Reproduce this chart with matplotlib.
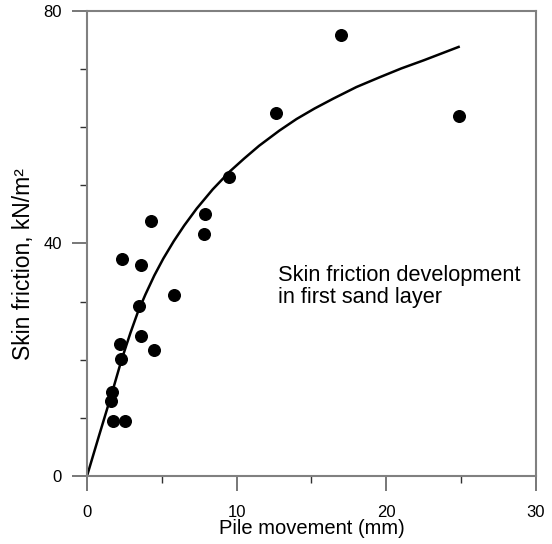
import matplotlib.pyplot as plt
import numpy as np

plt.rcParams['font.family'] = ['Liberation Sans', 'DejaVu Sans']

## measured points: pile movement (mm) vs skin friction (kN/m2)
movement = [1.67, 1.63, 1.74, 2.52, 2.27, 2.23, 4.48, 3.63, 3.47, 5.83,
            3.63, 2.32, 4.28, 7.82, 7.88, 9.51, 12.63, 16.95, 24.83]
friction = [14.4, 12.9, 9.5, 9.5, 20.2, 22.7, 21.7, 24.0, 29.2, 31.2,
            36.3, 37.3, 43.9, 41.6, 45.0, 51.4, 62.4, 75.8, 61.9]

## fitted curve
curve_x = [0, 0.8, 1.67, 2.3, 2.9, 3.4, 3.9, 4.5, 5.1, 5.8, 6.5, 7.33, 8.4,
           9.55, 10.5, 11.5, 12.85, 14.0, 15.2, 16.45, 18.0, 19.57, 21.0,
           22.5, 24.83]
curve_y = [0, 6.9, 14.3, 19.9, 24.6, 28.2, 31.2, 34.5, 37.4, 40.4, 43.1,
           46.0, 49.3, 52.4, 54.6, 56.8, 59.4, 61.4, 63.2, 64.9, 66.9, 68.6,
           70.1, 71.5, 73.8]

fig = plt.figure(figsize=(5.52, 5.44), dpi=100)
ax = fig.add_axes([0.1576, 0.125, 0.8134, 0.855])

ax.plot(curve_x, curve_y, color='black', lw=1.8, zorder=2)
ax.scatter(movement, friction, s=70, color='black', zorder=3)

ax.set_xlim(0, 30)
ax.set_ylim(0, 80)
ax.set_xticks([0, 10, 20, 30])
ax.set_xticks([5, 15, 25], minor=True)
ax.set_yticks([0, 40, 80])
ax.set_yticks([10, 20, 30, 50, 60, 70], minor=True)

for s in ax.spines.values():
    s.set_color('#808080')
    s.set_linewidth(1.5)
ax.tick_params(which='major', direction='out', length=11, width=1.2,
               color='#606060', labelsize=12, pad=10)
ax.tick_params(axis='y', which='major', pad=7)
ax.tick_params(which='minor', direction='out', length=5, width=1.0,
               color='#303030')

ax.set_xlabel('Pile movement (mm)', fontsize=14.5, labelpad=-1)
ax.set_ylabel('Skin friction, kN/m²', fontsize=16.5)
ax.yaxis.set_label_coords(-0.115, 0.455)

ax.text(12.75, 36.3, 'Skin friction development\nin first sand layer',
        fontsize=15.7, va='top', ha='left', linespacing=1.05)

fig.savefig('out.png', dpi=100)
